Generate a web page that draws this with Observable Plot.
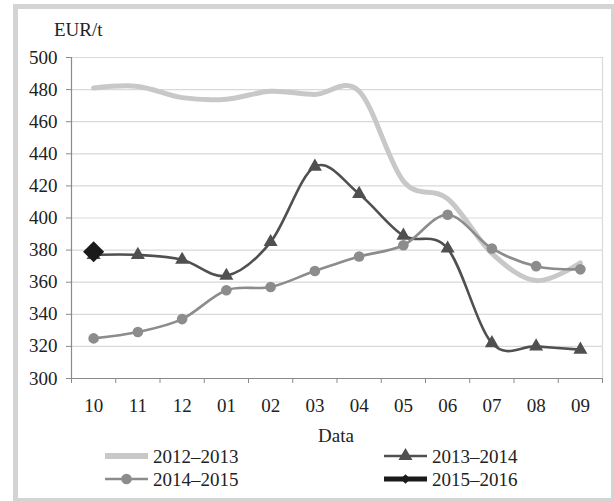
<!DOCTYPE html>
<html><head><meta charset="utf-8">
<script src="https://cdn.jsdelivr.net/npm/d3@7"></script>
<script src="https://cdn.jsdelivr.net/npm/@observablehq/plot@0.6"></script>
<style>
body{margin:0;background:#fff;font-family:"Liberation Serif","Times New Roman",serif;color:#222;}
#wrap{position:relative;width:614px;height:501px;overflow:hidden;background:#fff;}
#frame{position:absolute;left:13px;top:4px;width:603px;height:499px;border:5px solid #d4d4d4;box-sizing:border-box;}
#chart{position:absolute;left:0;top:0;}
.lbl{position:absolute;font-size:19px;line-height:1;white-space:nowrap;}
.leg{position:absolute;display:flex;align-items:center;font-size:19px;line-height:1;white-space:nowrap;}
.leg svg{margin-right:5px;}
</style></head>
<body>
<div id="wrap">
  <div id="frame"></div>
  <div id="chart"></div>
  <div class="lbl" style="left:54px;top:20px;">EUR/t</div>
  <div class="lbl" id="xlab" style="left:336px;top:426px;transform:translateX(-50%);">Data</div>
  <div id="legend"></div>
</div>
<script>
const months = ["10","11","12","01","02","03","04","05","06","07","08","09"];
const yTicks = [300,320,340,360,380,400,420,440,460,480,500];
const seriesNames = ["2012–2013","2013–2014","2014–2015","2015–2016"];
const s1213 = [481,482,475,474,479,477,479,423,412,378,361,372];
const s1314 = [377,377,374,364,385,432,415,389,381,322,320,318];
const s1415 = [325,329,337,355,357,367,376,383,402,381,370,368];
const s1516 = [379];

const colors = ["#c8c8c8","#505050","#8c8c8c","#1a1a1a"];

const rows = vals => vals.map((v,i)=>({x:i+0.5, y:v}));
const d1213 = rows(s1213), d1314 = rows(s1314), d1415 = rows(s1415), d1516 = rows(s1516);
const centers = months.map((m,i)=>i+0.5);
const bounds = d3.range(0, months.length+1);

const chart = Plot.plot({
  width:614, height:445,
  marginLeft:71, marginRight:12, marginTop:57, marginBottom:67,
  style:{fontFamily:"Liberation Serif, Times New Roman, serif", fontSize:"19px", color:"#222", background:"transparent", overflow:"visible"},
  x:{type:"linear", domain:[0, months.length]},
  y:{domain:[300,500]},
  marks:[
    Plot.gridY({ticks:yTicks, stroke:"#d9d9d9", strokeOpacity:1, strokeWidth:1.2}),
    Plot.ruleX([months.length], {stroke:"#d9d9d9", strokeWidth:1.2}),
    Plot.ruleX([0], {stroke:"#8a8a8a", strokeWidth:1.2}),
    Plot.ruleY([300], {stroke:"#8a8a8a", strokeWidth:1.2}),
    Plot.axisY({ticks:yTicks, tickSize:5, tickPadding:9, label:null, stroke:"#8a8a8a", fill:"#222"}),
    Plot.axisX({ticks:bounds, tickSize:5, tickFormat:()=>"", label:null, stroke:"#8a8a8a"}),
    Plot.axisX({ticks:centers, tickSize:0, tickPadding:20, tickFormat:v=>months[Math.round(v-0.5)], label:null, fill:"#222"}),
    Plot.line(d1213, {x:"x", y:"y", stroke:colors[0], strokeWidth:5, curve:"cardinal", tension:0}),
    Plot.line(d1314, {x:"x", y:"y", stroke:colors[1], strokeWidth:2.6, curve:"cardinal", tension:0}),
    Plot.dot(d1314, {x:"x", y:"y", symbol:"triangle", r:5.2, fill:colors[1]}),
    Plot.line(d1415, {x:"x", y:"y", stroke:colors[2], strokeWidth:2.6, curve:"cardinal", tension:0}),
    Plot.dot(d1415, {x:"x", y:"y", symbol:"circle", r:5.3, fill:colors[2]}),
    Plot.dot(d1516, {x:"x", y:"y", symbol:"diamond2", r:9.5, fill:colors[3]})
  ]
});
document.getElementById("chart").appendChild(chart);

// legend
const legPos = [[105,456],[384,456],[105,479],[384,479]];
const legend = document.getElementById("legend");
seriesNames.forEach((name,i)=>{
  const div = document.createElement("div");
  div.className = "leg";
  div.style.left = legPos[i][0]+"px";
  div.style.top = (legPos[i][1]-10)+"px";
  const sw = d3.create("svg").attr("width",43).attr("height",20);
  const widths = [6,2.6,2.6,5];
  sw.append("line").attr("x1",0).attr("x2",43).attr("y1",10).attr("y2",10)
    .attr("stroke",colors[i]).attr("stroke-width",widths[i]);
  const sym = [null, d3.symbolTriangle, d3.symbolCircle, d3.symbolDiamond2][i];
  const size = [0, 85, 88, 60][i];
  if (sym) sw.append("path").attr("d", d3.symbol(sym, size)()).attr("transform","translate(21.5,10)").attr("fill",colors[i]);
  div.appendChild(sw.node());
  const t = document.createElement("span");
  t.textContent = name;
  div.appendChild(t);
  legend.appendChild(div);
});
</script>
</body></html>
